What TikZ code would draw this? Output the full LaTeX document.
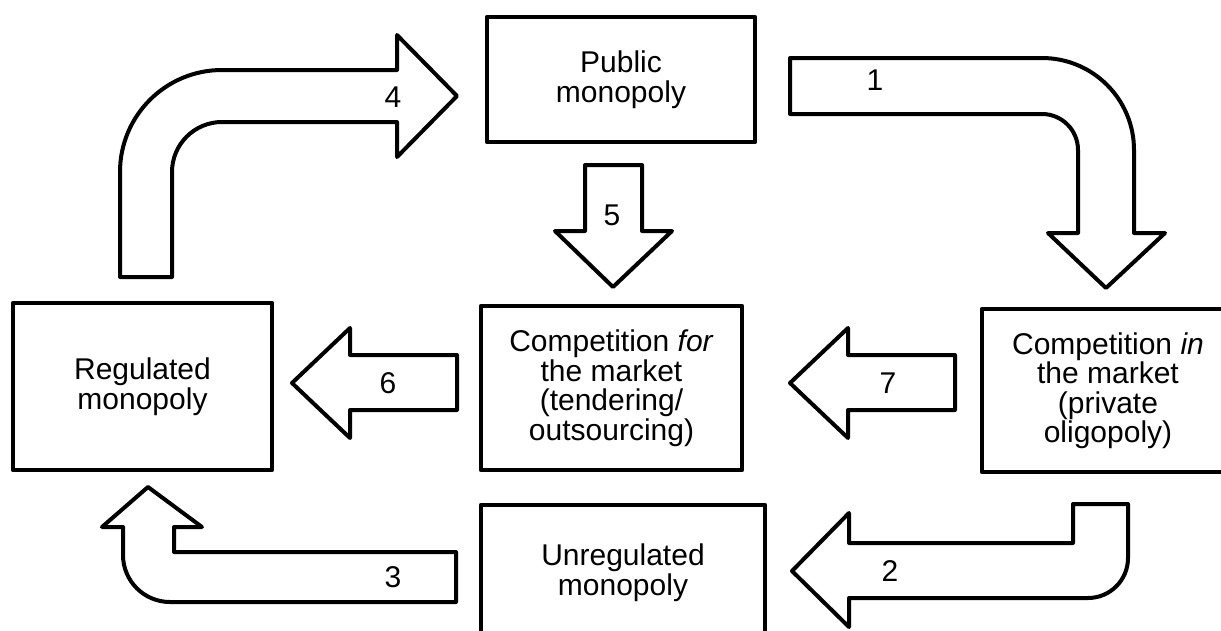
\documentclass[tikz,border=0pt]{standalone}
\usepackage{fontspec}
\setmainfont{Liberation Sans}
\begin{document}
\begin{tikzpicture}[x=1pt,y=-1pt,
  box/.style={draw=black,line width=4.5pt,line join=round,inner sep=0pt,align=center,
    font=\fontsize{30}{29.5}\selectfont},
  blockarrow/.style={draw=black,fill=white,line width=4pt,line join=round},
  num/.style={font=\fontsize{30}{30}\selectfont,inner sep=0pt}]
\useasboundingbox (0,0) rectangle (1221,630);
% boxes
\node[box,minimum width=268pt,minimum height=125pt] (pub) at (621,79.5) {Public\\monopoly};
\node[box,minimum width=259pt,minimum height=167pt] (reg) at (142.5,386.5) {Regulated\\monopoly};
\node[box,minimum width=261pt,minimum height=164pt] (cfor) at (611.5,388) {Competition \textit{for}\\the market\\(tendering/\\outsourcing)};
\node[box,minimum width=252pt,minimum height=163pt] (cin) at (1108,390.5) {Competition \textit{in}\\the market\\(private\\oligopoly)};
\node[box,minimum width=284pt,minimum height=135pt] (unreg) at (623,572.5) {Unregulated\\monopoly};
% arrow 4
\draw[blockarrow] (120,277) -- (120,172) arc[start angle=180,end angle=90,radius=102pt]
  -- (397,70) -- (397,35) -- (457,96) -- (397,157) -- (397,122) -- (222,122)
  arc[start angle=90,end angle=180,radius=50pt] -- (172,277) -- cycle;
% arrow 1
\draw[blockarrow] (790,58) -- (1042,58) arc[start angle=90,end angle=0,radius=92pt]
  -- (1134,233) -- (1165,233) -- (1106,288) -- (1048,233) -- (1078,233) -- (1078,150)
  arc[start angle=0,end angle=90,radius=36pt] -- (790,114) -- cycle;
% arrow 3
\draw[blockarrow] (148,487) -- (202,527) -- (174,527) -- (174,552) -- (456,552) -- (456,602)
  -- (170,602) arc[start angle=270,end angle=180,radius=47pt] -- (123,527) -- (102,527) -- cycle;
% arrow 2
\draw[blockarrow] (792,571) -- (849,513) -- (849,543) -- (1073,543) -- (1073,504) -- (1128,504)
  -- (1128,558) arc[start angle=0,end angle=-90,radius=40pt] -- (849,598) -- (849,627) -- cycle;
% arrow 5
\draw[blockarrow] (585,165) -- (642,165) -- (642,231) -- (672,231) -- (613,287) -- (555,231) -- (585,231) -- cycle;
% arrow 6
\draw[blockarrow] (292,383) -- (350,328) -- (350,355) -- (457,355) -- (457,410) -- (350,410) -- (350,438) -- cycle;
% arrow 7
\draw[blockarrow] (790,383) -- (848,328) -- (848,355) -- (955,355) -- (955,410) -- (848,410) -- (848,438) -- cycle;
% labels
\node[num] (n4) at (393,97) {4};
\node[num] (n1) at (875,80) {1};
\node[num] (n3) at (393,577) {3};
\node[num] (n2) at (890,571) {2};
\node[num] (n5) at (612,215) {5};
\node[num] (n6) at (388,383) {6};
\node[num] (n7) at (888,383) {7};
\end{tikzpicture}
\end{document}
